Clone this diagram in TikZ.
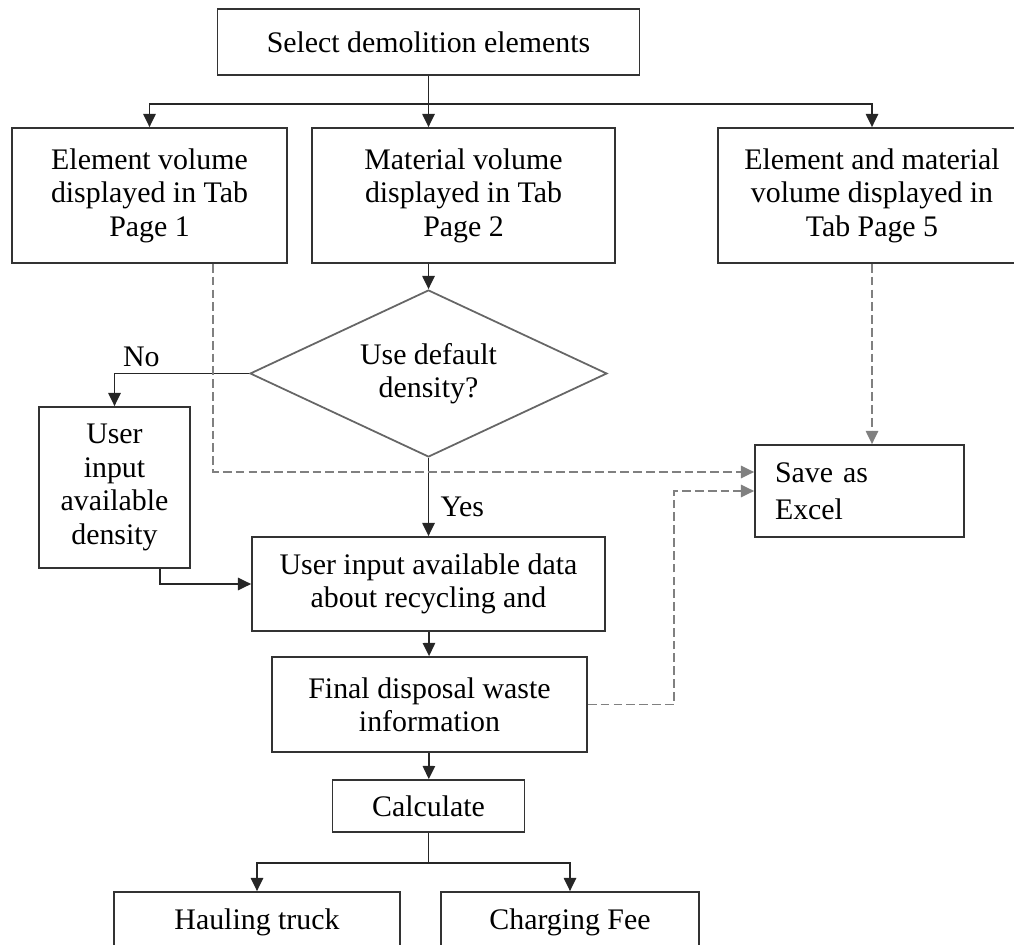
\documentclass[tikz,border=0pt]{standalone}
\usepackage{fontspec}
\setmainfont{Liberation Serif}
\usetikzlibrary{positioning,shapes.geometric,arrows.meta}

\begin{document}
\begin{tikzpicture}[
    x=0.02cm, y=-0.02cm,
    font=\fontsize{17}{19}\selectfont,
    box/.style={draw=black!80, line width=1pt, align=center, inner sep=2pt},
    decision/.style={diamond, shape aspect=2.14, draw=black!60, line width=1pt, align=center, inner sep=0pt},
    arrow/.style={-{Triangle[length=7.5pt, width=7pt]}, line width=1pt, draw=black!85},
    dasharrow/.style={arrow, draw=black!50, dash pattern=on 5pt off 2.3pt}
  ]
    \useasboundingbox (0,0) rectangle (1014,945);
    \clip (0,0) rectangle (1014,945);

    \node[box, minimum width=8.44cm, minimum height=1.32cm] (select) at (428.5,42) {Select demolition elements};
    \node[box, minimum width=5.5cm, minimum height=2.7cm] (elemvol) at (149.5,195.5) {Element volume\\displayed in Tab\\Page 1};
    \node[box, minimum width=6.06cm, minimum height=2.7cm] (matvol) at (463.5,195.5) {Material volume\\displayed in Tab\\Page 2};
    \node[box, minimum width=6.16cm, minimum height=2.7cm] (bothvol) at (872,195.5) {Element and material\\volume displayed in\\Tab Page 5};
    \node[decision, minimum width=7.14cm, minimum height=3.34cm] (decide) at (428.5,373.5) {Use default\\density?};
    \node[box, minimum width=3.02cm, minimum height=3.22cm] (density) at (114.5,487.5) {User\\input\\available\\density};
    \node[box, minimum width=7.06cm, minimum height=1.88cm] (recycle) at (428.5,584) {User input available data\\about recycling and};
    \node[box, minimum width=4.18cm, minimum height=1.84cm, align=left, text width=3.38cm] (excel) at (859.5,491) {Save as\\[2pt]Excel};
    \node[box, minimum width=6.3cm, minimum height=1.9cm] (final) at (429.5,704.5) {Final disposal waste\\information};
    \node[box, minimum width=3.84cm, minimum height=1.04cm] (calc) at (428.5,806) {Calculate};
    \node[box, minimum width=5.72cm, minimum height=1.2cm] (hauling) at (257,922) {Hauling truck};
    \node[box, minimum width=5.16cm, minimum height=1.2cm] (charge) at (570,922) {Charging Fee};

    % split under the first box
    \coordinate[below=0.56cm of select] (split);
    \draw[arrow, -] (select) -- (split);
    \draw[arrow] (split) -| (elemvol);
    \draw[arrow] (split) -- (split |- matvol.north);
    \draw[arrow] (split) -| (bothvol);
    \draw[arrow] (matvol.south -| decide.north) -- (decide);

    \draw[arrow] (decide.west) -| node[above, pos=0.4] {No} (density);
    \draw[arrow] (decide) -- node[right, pos=0.62, xshift=3pt] {Yes} (recycle);
    \draw[arrow] ([xshift=0.91cm]density.south) |- (recycle);
    \draw[arrow] (recycle) -- (final);
    \draw[arrow] (final) -- (calc);

    % split under calculate
    \coordinate[below=0.6cm of calc] (split2);
    \draw[arrow, -] (calc) -- (split2);
    \draw[arrow] (split2) -| (hauling);
    \draw[arrow] (split2) -| (charge);

    % saving to excel
    \draw[dasharrow] ([xshift=1.27cm]elemvol.south) |- ([yshift=0.38cm]excel.west);
    \draw[dasharrow] (bothvol.south) -- (bothvol.south |- excel.north);
    \draw[dasharrow] (final.east) -- ++(86,0) |- (excel.west);
\end{tikzpicture}
\end{document}
